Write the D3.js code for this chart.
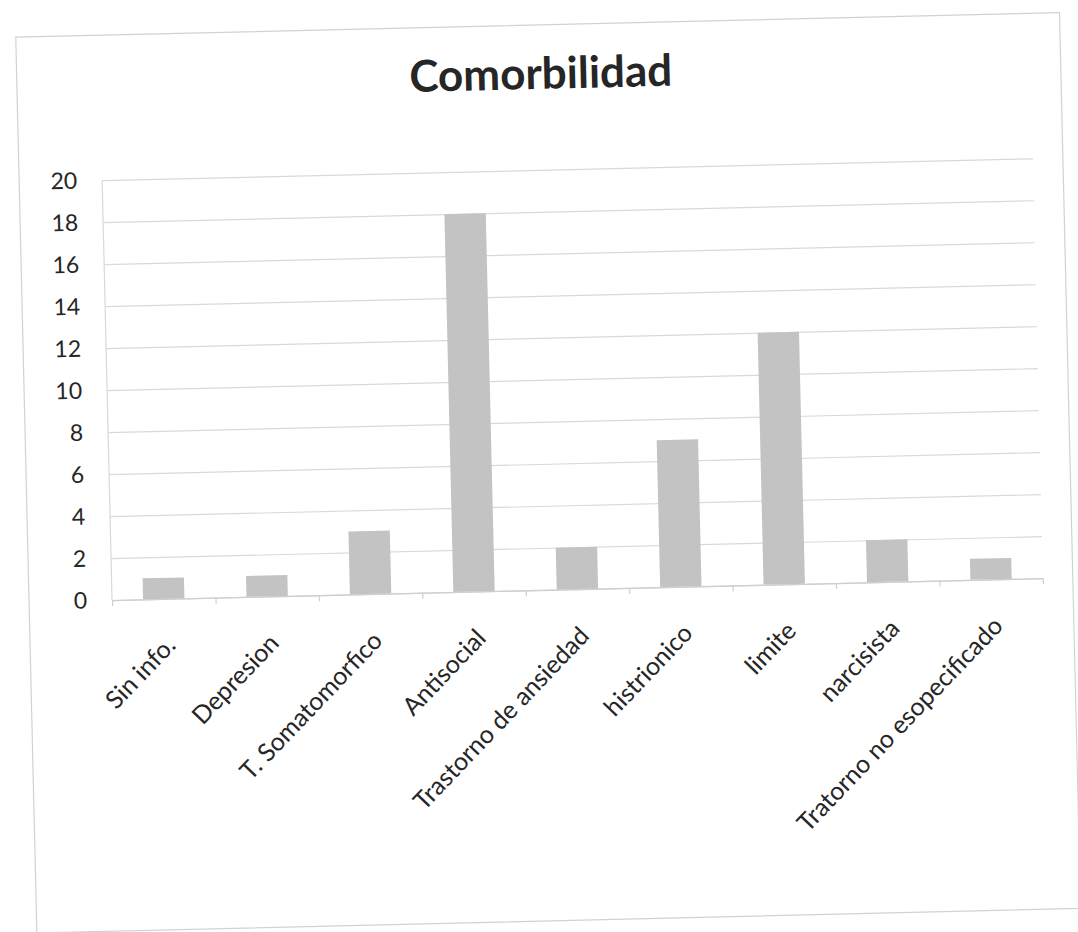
<!DOCTYPE html>
<html>
<head>
<meta charset="utf-8">
<script src="https://cdn.jsdelivr.net/npm/d3@7"></script>
<style>
  html, body { margin: 0; padding: 0; background: #ffffff; }
  svg { display: block; }
  text { font-family: Lato, "Open Sans", sans-serif; fill: #262626; }
</style>
</head>
<body>
<svg id="chart" width="1078" height="932"></svg>
<script>
// Comorbidity counts by diagnosis
const categories = [
  "Sin info.", "Depresion", "T. Somatomorfico", "Antisocial",
  "Trastorno de ansiedad", "histrionico", "limite", "narcisista",
  "Tratorno no esopecificado"
];
const counts = [1, 1, 3, 18, 2, 7, 12, 2, 1];
const yTicks = [0, 2, 4, 6, 8, 10, 12, 14, 16, 18, 20];
const chartTitle = "Comorbilidad";

const W = 1078, H = 932;
const plot = { left: 109, right: 1040, top: 170, bottom: 590 };

const svg = d3.select("#chart");
svg.append("rect").attr("width", W).attr("height", H).attr("fill", "#ffffff");

// the printed sheet sits slightly skewed
const g = svg.append("g").attr("transform", "rotate(-1.35, 539, 466)");

// chart area frame
g.append("rect")
  .attr("x", 26).attr("y", 25).attr("width", 1044).attr("height", 896)
  .attr("fill", "#ffffff").attr("stroke", "#d2d2d2").attr("stroke-width", 1.2);

const x = d3.scaleBand()
  .domain(categories)
  .range([plot.left, plot.right])
  .paddingInner(0.6)
  .paddingOuter(0.3);

const y = d3.scaleLinear()
  .domain([0, 20])
  .range([plot.bottom, plot.top]);

// horizontal gridlines + value labels
const yAxis = g.append("g")
  .attr("transform", `translate(${plot.left},0)`)
  .call(d3.axisLeft(y)
    .tickValues(yTicks)
    .tickSize(-(plot.right - plot.left))
    .tickPadding(25)
    .tickFormat(d3.format("d")));
yAxis.select(".domain").remove();
yAxis.selectAll(".tick line").attr("stroke", "#d9d9d9").attr("stroke-width", 1.2);
yAxis.selectAll(".tick text")
  .attr("font-size", 23)
  .style("font-family", "Lato, 'Open Sans', sans-serif")
  .attr("fill", "#262626");

// vertical axis line
g.append("line")
  .attr("x1", plot.left).attr("x2", plot.left)
  .attr("y1", y(20)).attr("y2", y(0))
  .attr("stroke", "#d9d9d9").attr("stroke-width", 1.2);

// bars
g.append("g").selectAll("rect")
  .data(categories)
  .join("rect")
  .attr("x", d => x(d))
  .attr("width", x.bandwidth())
  .attr("y", (d, i) => y(counts[i]))
  .attr("height", (d, i) => y(0) - y(counts[i]))
  .attr("fill", "#c3c3c3");

// category axis with tick marks between categories
const boundary = d3.scaleLinear().domain([0, categories.length]).range([plot.left, plot.right]);
const xAxis = g.append("g")
  .attr("transform", `translate(0,${plot.bottom})`)
  .call(d3.axisBottom(boundary)
    .tickValues(d3.range(0, categories.length + 1))
    .tickSize(6)
    .tickSizeOuter(0)
    .tickFormat(""));
xAxis.select(".domain").attr("stroke", "#cfcfcf").attr("stroke-width", 1.3);
xAxis.selectAll(".tick line").attr("stroke", "#cfcfcf").attr("stroke-width", 1.2);

// rotated category labels
g.append("g").selectAll("text")
  .data(categories)
  .join("text")
  .attr("transform", d => `translate(${x(d) + x.bandwidth() / 2 + 6},${plot.bottom + 42}) rotate(-45)`)
  .attr("text-anchor", "end")
  .attr("dy", "0.35em")
  .attr("font-size", 25)
  .text(d => d);

// title
g.append("text")
  .attr("x", 550).attr("y", 89)
  .attr("text-anchor", "middle")
  .attr("font-size", 44)
  .attr("font-weight", 700)
  .attr("fill", "#2b2b2b")
  .text(chartTitle);
</script>
</body>
</html>
